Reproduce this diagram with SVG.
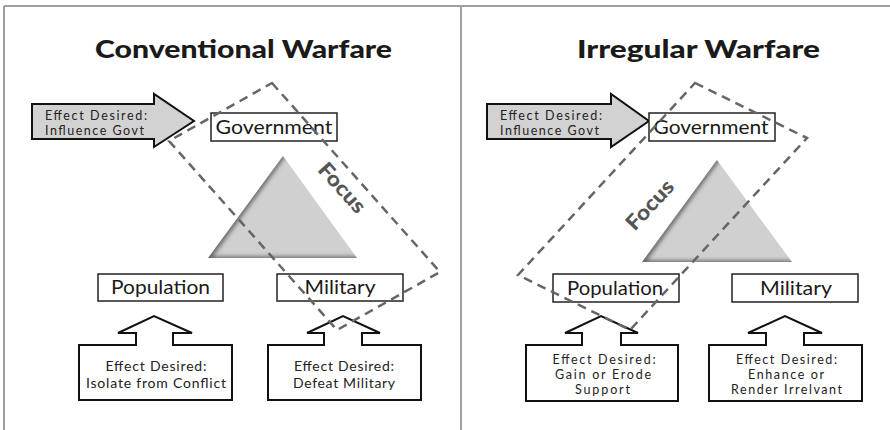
<svg xmlns="http://www.w3.org/2000/svg" width="890" height="430" viewBox="0 0 890 430">
<style>
.frame{stroke:#a0a0a0;stroke-width:2;fill:none}
.title{font-family:Lato,"Liberation Sans",sans-serif;font-weight:900;font-size:24px;fill:#1a1a1a}
.box{fill:#fff;stroke:#222;stroke-width:1.5}
.lbl{font-family:Lato,"Liberation Sans",sans-serif;font-size:20px;fill:#1a1a1a;text-anchor:middle}
.big{fill:#d2d2d2;stroke:#111;stroke-width:2;stroke-linejoin:miter}
.up{fill:#fff;stroke:#111;stroke-width:2;stroke-linejoin:miter}
.eff{font-family:Lato,"Liberation Sans",sans-serif;font-size:12.5px;fill:#222}
.effc{font-family:Lato,"Liberation Sans",sans-serif;font-size:14px;fill:#222;text-anchor:middle}
.effs{font-family:Lato,"Liberation Sans",sans-serif;font-size:12.5px;fill:#222;text-anchor:middle}
.focus{fill:none;stroke:#666;stroke-width:2.5;stroke-dasharray:9 6}
.ftxt{font-family:Lato,"Liberation Sans",sans-serif;font-weight:900;font-size:21px;fill:#555;text-anchor:middle}
.tri{fill:#d0d0d0}
.shade{fill:none;stroke:#6a6a6a;stroke-width:7;filter:url(#blur)}
</style>
<defs>
<filter id="blur" x="-20%" y="-20%" width="140%" height="140%"><feGaussianBlur stdDeviation="2"/></filter>
<clipPath id="triL"><polygon points="283,156 357,258 208,258"/></clipPath>
<clipPath id="triR"><polygon points="717,160 792,262 642,262"/></clipPath>
</defs>

<g id="frame">
<line class="frame" x1="4" y1="6" x2="890" y2="6"/>
<line class="frame" x1="4" y1="6" x2="4" y2="430"/>
<line class="frame" x1="461" y1="6" x2="461" y2="430"/>
</g>

<!-- Left panel -->
<g id="title-left"><text class="title" x="95" y="58" textLength="297" lengthAdjust="spacingAndGlyphs">Conventional Warfare</text></g>

<g id="triangle-left">
<polygon class="tri" points="283,156 357,258 208,258"/>
<g clip-path="url(#triL)"><polyline class="shade" points="283,154 206,260 359,260"/></g>
</g>

<g id="govt-effect-left">
<polygon class="big" points="32,104 154,104 154,94 194,121 154,147 154,139 32,139"/>
<text class="eff" x="45" y="120" textLength="102" lengthAdjust="spacing">Effect Desired:</text>
<text class="eff" x="45" y="135" textLength="99" lengthAdjust="spacing">Influence Govt</text>
</g>

<g id="government-left">
<rect class="box" x="211" y="113" width="126" height="28"/>
<text class="lbl" x="274" y="134" textLength="117" lengthAdjust="spacingAndGlyphs">Government</text>
</g>

<g id="population-left">
<rect class="box" x="98" y="274" width="125" height="27"/>
<text class="lbl" x="160.5" y="294" textLength="99" lengthAdjust="spacingAndGlyphs">Population</text>
</g>

<g id="military-left">
<rect class="box" x="277" y="274" width="126" height="27"/>
<text class="lbl" x="340" y="294" textLength="71" lengthAdjust="spacingAndGlyphs">Military</text>
</g>

<g id="pop-effect-left">
<polygon class="up" points="79,345 136,345 136,333 118,333 154,316 192,333 173,333 173,345 232,345 232,400 79,400"/>
<text class="effc" x="156" y="371" textLength="101" lengthAdjust="spacing">Effect Desired:</text>
<text class="effc" x="156" y="388" textLength="140" lengthAdjust="spacing">Isolate from Conflict</text>
</g>

<g id="mil-effect-left">
<polygon class="up" points="268,345 324,345 324,333 307,333 343,316 380,333 362,333 362,345 421,345 421,400 268,400"/>
<text class="effc" x="344" y="371" textLength="100" lengthAdjust="spacing">Effect Desired:</text>
<text class="effc" x="344" y="388" textLength="102" lengthAdjust="spacing">Defeat Military</text>
</g>

<g id="focus-left">
<polygon class="focus" points="272,83 440,272 337,330 169,141"/>
<text class="ftxt" transform="translate(342,188) rotate(48)" y="7" textLength="60" lengthAdjust="spacingAndGlyphs">Focus</text>
</g>

<!-- Right panel -->
<g id="title-right"><text class="title" x="577" y="58" textLength="243" lengthAdjust="spacingAndGlyphs">Irregular Warfare</text></g>

<g id="triangle-right">
<polygon class="tri" points="717,160 792,262 642,262"/>
<g clip-path="url(#triR)"><polyline class="shade" points="717,158 640,264 794,264"/></g>
</g>

<g id="govt-effect-right">
<polygon class="big" points="487,104 611,104 611,94 649,121 611,147 611,139 487,139"/>
<text class="eff" x="500" y="120" textLength="102" lengthAdjust="spacing">Effect Desired:</text>
<text class="eff" x="500" y="135" textLength="99" lengthAdjust="spacing">Influence Govt</text>
</g>

<g id="government-right">
<rect class="box" x="649" y="113" width="126" height="28"/>
<text class="lbl" x="711" y="134" textLength="115" lengthAdjust="spacingAndGlyphs">Government</text>
</g>

<g id="population-right">
<rect class="box" x="553" y="274" width="126" height="28"/>
<text class="lbl" x="615" y="295" textLength="96" lengthAdjust="spacingAndGlyphs">Population</text>
</g>

<g id="military-right">
<rect class="box" x="732" y="274" width="126" height="28"/>
<text class="lbl" x="796" y="295" textLength="72" lengthAdjust="spacingAndGlyphs">Military</text>
</g>

<g id="pop-effect-right">
<polygon class="up" points="526,345 582,345 582,333 565,333 601,316 638,333 621,333 621,345 678,345 678,401 526,401"/>
<text class="effs" x="604" y="364" textLength="103" lengthAdjust="spacing">Effect Desired:</text>
<text class="effs" x="603" y="379" textLength="96" lengthAdjust="spacing">Gain or Erode</text>
<text class="effs" x="602.5" y="394" textLength="55" lengthAdjust="spacing">Support</text>
</g>

<g id="mil-effect-right">
<polygon class="up" points="709,345 766,345 766,333 748,333 785,316 822,333 804,333 804,345 862,345 862,401 709,401"/>
<text class="effs" x="786.5" y="364" textLength="101" lengthAdjust="spacing">Effect Desired:</text>
<text class="effs" x="786" y="379" textLength="76" lengthAdjust="spacing">Enhance or</text>
<text class="effs" x="786.5" y="394" textLength="111" lengthAdjust="spacing">Render Irrelvant</text>
</g>

<g id="focus-right">
<polygon class="focus" points="695,83 807,138 630,330 518,275"/>
<text class="ftxt" transform="translate(650,205) rotate(-47)" y="7" textLength="60" lengthAdjust="spacingAndGlyphs">Focus</text>
</g>
</svg>
